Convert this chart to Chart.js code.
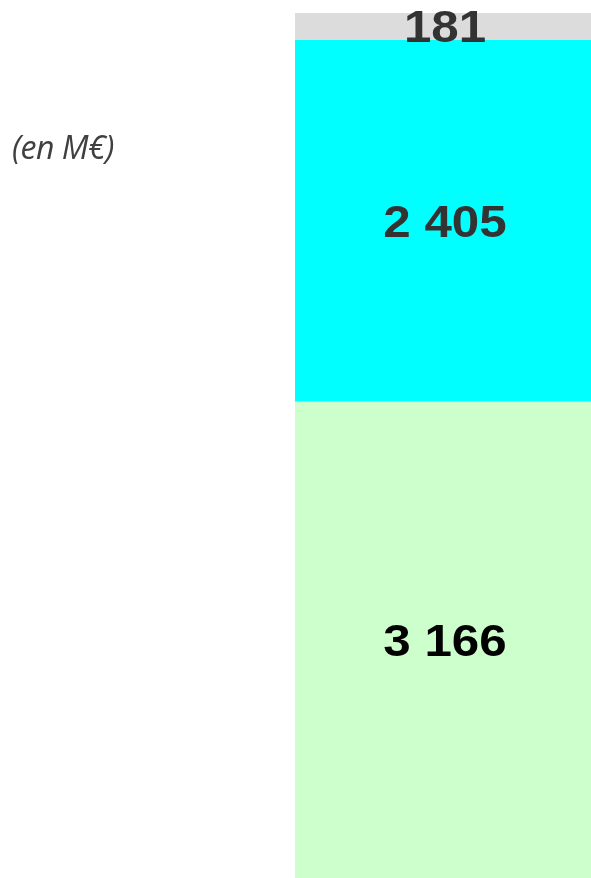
<!DOCTYPE html>
<html>
<head>
<meta charset="utf-8">
<script src="https://cdn.jsdelivr.net/npm/chart.js@4"></script>
<style>
    html, body { margin: 0; padding: 0; background: #fff; }
    #wrap { position: relative; width: 591px; height: 878px; }
    #unit {
        position: absolute; left: 12px; top: 131px;
        font-family: "Open Sans", sans-serif; font-style: italic; font-weight: 400;
        font-size: 32px; line-height: 1; color: #404040; letter-spacing: -0.5px;
    }
</style>
</head>
<body>
<div id="wrap">
    <canvas id="chart" width="591" height="878"></canvas>
    <div id="unit">(en M€)</div>
</div>
<script>
// donnees (en M€)
const categories = [''];
const seriesNames = ['Bas', 'Milieu', 'Haut'];
const valuesBas = [3166];
const valuesMilieu = [2405];
const valuesHaut = [181];
const seriesColors = ['#CCFFCC', '#00FFFF', '#DCDCDC'];
const labelColors = ['#000000', '#333333', '#333333'];

const total = valuesBas[0] + valuesMilieu[0] + valuesHaut[0];

function formatFr(v) {
    return String(v).replace(/\B(?=(\d{3})+(?!\d))/g, ' ');
}

const labelPlugin = {
    id: 'segmentLabels',
    afterDatasetsDraw(chart) {
        const ctx = chart.ctx;
        const size = 44;
        const stretch = 1.12;
        chart.data.datasets.forEach((ds, i) => {
            const meta = chart.getDatasetMeta(i);
            meta.data.forEach((bar, j) => {
                const cy = (bar.y + bar.base) / 2;
                ctx.save();
                ctx.font = 'bold ' + size + 'px "Liberation Sans", Arial, sans-serif';
                ctx.fillStyle = labelColors[i];
                ctx.textAlign = 'center';
                ctx.textBaseline = 'alphabetic';
                ctx.translate(bar.x + 2, cy + size * 0.716 / 2);
                ctx.scale(stretch, 1);
                ctx.fillText(formatFr(ds.data[j]), 0, 0);
                ctx.restore();
            });
        });
    }
};

new Chart(document.getElementById('chart'), {
    type: 'bar',
    data: {
        labels: categories,
        datasets: [
            { label: seriesNames[0], data: valuesBas, backgroundColor: seriesColors[0] },
            { label: seriesNames[1], data: valuesMilieu, backgroundColor: seriesColors[1] },
            { label: seriesNames[2], data: valuesHaut, backgroundColor: seriesColors[2] }
        ]
    },
    options: {
        responsive: false,
        animation: false,
        layout: { padding: { left: 295, top: 13, right: 0, bottom: 0 } },
        datasets: { bar: { barPercentage: 1, categoryPercentage: 1, borderWidth: 0 } },
        plugins: { legend: { display: false }, tooltip: { enabled: false } },
        scales: {
            x: { stacked: true, display: false },
            y: { stacked: true, display: false, min: 0, max: total }
        }
    },
    plugins: [labelPlugin]
});
</script>
</body>
</html>
